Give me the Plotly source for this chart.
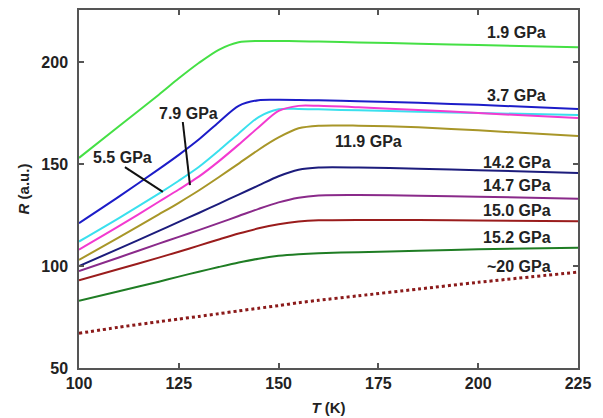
import plotly.graph_objects as go

# Temperature grid (K)
temperature = [100, 110, 120, 125, 130, 135, 140, 145, 150, 155, 160, 170, 185, 200, 225]

# Resistance curves (a.u.) at each pressure
r_1_9 = [153, 168.5, 184, 192, 199.5, 206, 209.7, 210.3, 210.3, 210.2, 210.0, 209.6, 209.0, 208.3, 207.2]
r_3_7 = [121, 134, 147.5, 154.5, 162, 170.5, 178.5, 181.3, 181.5, 181.4, 181.2, 180.8, 180.0, 179.0, 177.0]
r_5_5 = [112, 123.5, 135.5, 141.8, 148.5, 156.5, 165, 173, 176.8, 177, 176.8, 176.3, 175.6, 175.0, 174.0]
r_7_9 = [108, 119.5, 131.5, 137.5, 143.8, 151.3, 159.5, 168, 176, 178.5, 178.5, 177.8, 176.5, 175.0, 172.5]
r_11_9 = [103, 114, 125.3, 131, 137, 143.5, 150.2, 157, 163, 167.5, 168.8, 168.8, 168.0, 166.5, 163.7]
r_14_2 = [100, 108.5, 117.2, 121.6, 126, 130.5, 135, 139.5, 144, 147.2, 148.3, 148.3, 147.7, 147.0, 145.6]
r_14_7 = [97.5, 104.2, 111, 114.3, 117.6, 121, 124.5, 128, 131.2, 133.5, 134.6, 134.8, 134.5, 134.0, 133.0]
r_15_0 = [93, 98.5, 104.1, 107, 110, 113, 115.9, 118.5, 120.5, 121.8, 122.4, 122.6, 122.5, 122.3, 122.0]
r_15_2 = [83, 87.6, 92.3, 94.8, 97.2, 99.5, 101.7, 103.6, 105, 105.8, 106.3, 106.8, 107.5, 108.2, 109.0]
r_20 = [67, 70, 72.7, 74, 75.3, 76.6, 78, 79.3, 80.6, 82, 83.2, 85.4, 88.7, 92.0, 97.0]

series = [
    (r_1_9, "#45e045", "solid"),
    (r_3_7, "#1c1cc8", "solid"),
    (r_5_5, "#3ae0ee", "solid"),
    (r_7_9, "#f33ad0", "solid"),
    (r_11_9, "#a89628", "solid"),
    (r_14_2, "#1c1c7c", "solid"),
    (r_14_7, "#8a2a8a", "solid"),
    (r_15_0, "#9a1c1c", "solid"),
    (r_15_2, "#1f7d24", "solid"),
    (r_20, "#8b1a1a", "dot"),
]

# Pressure labels: (text, T, R)
labels = [
    ("1.9 GPa", 209.5, 214.7),
    ("3.7 GPa", 209.5, 183.8),
    ("5.5 GPa", 110.8, 153.4),
    ("7.9 GPa", 127.5, 175.0),
    ("11.9 GPa", 172.5, 160.8),
    ("14.2 GPa", 209.8, 150.5),
    ("14.7 GPa", 209.8, 139.7),
    ("15.0 GPa", 209.8, 127.0),
    ("15.2 GPa", 209.8, 114.2),
    ("~20 GPa", 210.2, 100.0),
]

# Leader lines from labels to their curves: (T0, R0, T1, R1)
leaders = [
    (111.5, 148.5, 121.0, 136.3),
    (126.0, 170.6, 127.8, 139.7),
]

fig = go.Figure()
for values, color, dash in series:
    fig.add_trace(go.Scatter(
        x=temperature, y=values, mode="lines",
        line=dict(color=color, width=3 if dash == "dot" else 2, dash=dash,
                  shape="spline", smoothing=0.8),
        showlegend=False, hoverinfo="skip",
    ))

for text, t, r in labels:
    fig.add_annotation(x=t, y=r, text=f"<b>{text}</b>", showarrow=False,
                       font=dict(family="Liberation Sans", size=16, color="#222"))

for t0, r0, t1, r1 in leaders:
    fig.add_shape(type="line", x0=t0, y0=r0, x1=t1, y1=r1,
                  line=dict(color="#111", width=2))

axis_common = dict(
    showgrid=False, zeroline=False, showline=True, linecolor="#555", linewidth=1.5,
    mirror="ticks", ticks="inside", ticklen=5, tickwidth=1.5, tickcolor="#555",
    tickfont=dict(family="Liberation Sans", size=16, color="#222"),
)

fig.update_xaxes(
    range=[100, 225], tickvals=[100, 125, 150, 175, 200, 225],
    ticktext=["<b>100</b>", "<b>125</b>", "<b>150</b>", "<b>175</b>", "<b>200</b>", "<b>225</b>"],
    title=dict(text="<b><i>T</i> (K)</b>", font=dict(family="Liberation Sans", size=15, color="#222"),
               standoff=12),
    **axis_common,
)
fig.update_yaxes(
    range=[50, 225.5], tickvals=[50, 100, 150, 200],
    ticktext=["<b>50</b>", "<b>100</b>", "<b>150</b>", "<b>200</b>"],
    ticklabelstandoff=6,
    title=dict(text="<b><i>R</i> (a.u.)</b>", font=dict(family="Liberation Sans", size=15, color="#222"),
               standoff=8),
    **axis_common,
)

fig.update_layout(
    width=603, height=418,
    margin=dict(l=79, r=25, t=10, b=50, autoexpand=False),
    paper_bgcolor="white", plot_bgcolor="white",
)

fig.write_html("out.html")
